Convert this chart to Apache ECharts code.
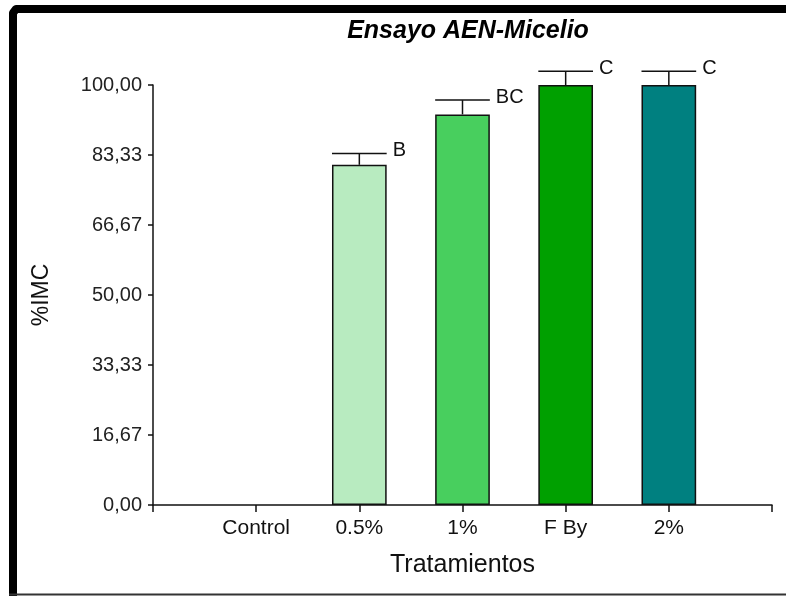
<!DOCTYPE html>
<html>
<head>
<meta charset="utf-8">
<script src="https://cdn.jsdelivr.net/npm/echarts@6/dist/echarts.min.js"></script>
<style>
  html, body { margin: 0; padding: 0; background: #fff; }
  #chart { width: 786px; height: 596px; }
</style>
</head>
<body>
<div id="chart"></div>
<script>
// Treatment categories (blank slots pad the axis ends)
var categories = ['', 'Control', '0.5%', '1%', 'F By', '2%', ''];
// Mean %IMC per treatment
var means = [null, 0, 81, 93, 100, 100, null];
// Upper end of the error bar per treatment
var errorTops = [null, null, 83.7, 96.4, 103.3, 103.3, null];
// Significance letters
var letters = ['', '', 'B', 'BC', 'C', 'C', ''];
// Bar fill colours
var barColors = ['#ffffff', '#ffffff', '#b8ebc0', '#48cf5e', '#00a000', '#008080', '#ffffff'];
// Y-axis tick settings
var yMin = 0, yMax = 100, yStep = 100 / 6;

var FONT = '"Liberation Sans", Arial, sans-serif';

var chart = echarts.init(document.getElementById('chart'), null, { renderer: 'canvas' });

var barData = means.map(function (v, i) {
  return {
    value: v,
    itemStyle: { color: barColors[i], borderWidth: v ? 1.5 : 0 }
  };
});
var errData = errorTops.map(function (t, i) {
  return [i, means[i], t];
});

chart.setOption({
  animation: false,
  backgroundColor: '#ffffff',
  grid: { left: 153, right: 14, top: 85, bottom: 91, containLabel: false },
  xAxis: {
    type: 'category',
    data: categories,
    boundaryGap: false,
    name: 'Tratamientos',
    nameLocation: 'middle',
    nameGap: 48,
    nameTextStyle: { fontFamily: FONT, fontSize: 25, color: '#111' },
    axisLine: { lineStyle: { color: '#111', width: 1.5 } },
    axisTick: { show: true, length: 7, inside: false, alignWithLabel: true, lineStyle: { color: '#111', width: 1.5 } },
    axisLabel: { fontFamily: FONT, fontSize: 21, color: '#111', margin: 13, interval: 0 },
    splitLine: { show: false }
  },
  yAxis: {
    type: 'value',
    min: yMin,
    max: yMax,
    interval: yStep,
    name: '%IMC',
    nameLocation: 'middle',
    nameGap: 100,
    nameRotate: 90,
    nameTextStyle: { fontFamily: FONT, fontSize: 23, color: '#111' },
    axisLine: { show: true, lineStyle: { color: '#111', width: 1.5 } },
    axisTick: { show: true, length: 5, lineStyle: { color: '#111', width: 1.5 } },
    axisLabel: {
      fontFamily: FONT, fontSize: 20, color: '#222', margin: 11,
      formatter: function (v) { return v.toFixed(2).replace('.', ','); }
    },
    splitLine: { show: false }
  },
  series: [
    {
      type: 'bar',
      data: barData,
      barWidth: '53%',
      itemStyle: { borderColor: '#111' },
      z: 2
    },
    {
      type: 'custom',
      data: errData,
      clip: false,
      z: 3,
      encode: { x: 0, y: 2 },
      renderItem: function (params, api) {
        var top = api.value(2);
        var mean = api.value(1);
        if (top == null || isNaN(top)) return null;
        var idx = api.value(0);
        var half = api.size([1, 0])[0] * 0.53 / 2;
        var pTop = api.coord([idx, top]);
        var pMean = api.coord([idx, mean]);
        return {
          type: 'group',
          children: [
            { type: 'line', shape: { x1: pTop[0] - half, y1: pTop[1], x2: pTop[0] + half, y2: pTop[1] },
              style: { stroke: '#111', lineWidth: 1.5 } },
            { type: 'line', shape: { x1: pTop[0], y1: pTop[1], x2: pTop[0], y2: pMean[1] },
              style: { stroke: '#111', lineWidth: 1.5 } },
            { type: 'text', x: pTop[0] + half + 6, y: pTop[1] - 3,
              style: { text: letters[idx], fontFamily: FONT, fontSize: 20, fill: '#111',
                       textAlign: 'left', textVerticalAlign: 'middle' } }
          ]
        };
      }
    }
  ],
  graphic: [
    { type: 'text', x: 468, y: 31,
      style: { text: 'Ensayo AEN-Micelio', fontFamily: FONT, fontSize: 25, fontWeight: 'bold',
               fontStyle: 'italic', fill: '#000', textAlign: 'center', textVerticalAlign: 'middle' } },
    // frame: heavy left/top edges, light bottom edge
    { type: 'polyline', shape: { points: [[13, 600], [13, 13], [16, 9], [800, 9]] },
      style: { stroke: '#000', lineWidth: 8, fill: null, lineJoin: 'round' } },
    { type: 'line', shape: { x1: 9, y1: 594.5, x2: 786, y2: 594.5 },
      style: { stroke: '#333', lineWidth: 2 } }
  ]
});
</script>
</body>
</html>
